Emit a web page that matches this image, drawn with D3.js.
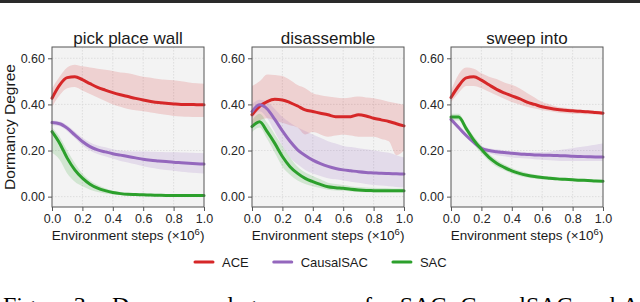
<!DOCTYPE html>
<html>
<head>
<meta charset="utf-8">
<script src="https://cdn.jsdelivr.net/npm/d3@7"></script>
<style>
  body { margin: 0; background: #fff; }
  svg { display: block; font-family: 'Liberation Sans', Arial, sans-serif; }
</style>
</head>
<body>
<div id="chart"></div>
<script>
// environment steps (x 10^6)
const steps = [0, 0.05, 0.1, 0.15, 0.2, 0.25, 0.3, 0.35, 0.4, 0.45, 0.5, 0.55, 0.6, 0.65, 0.7, 0.75, 0.8, 0.85, 0.9, 0.95, 1.0]
const tasks = ['pick place wall', 'disassemble', 'sweep into']
const methods = ['ACE', 'CausalSAC', 'SAC']
const colors = ['#d62728', '#9467bd', '#2ca02c']
const yTicks = [0, 0.2, 0.4, 0.6]
const xTicks = [0, 0.2, 0.4, 0.6, 0.8, 1.0]

// pick place wall
const pickAceMean = [0.427, 0.484, 0.516, 0.52, 0.507, 0.49, 0.474, 0.462, 0.451, 0.442, 0.434, 0.426, 0.419, 0.413, 0.408, 0.405, 0.402, 0.4, 0.4, 0.399, 0.398]
const pickAceHi = [0.47, 0.52, 0.56, 0.572, 0.565, 0.56, 0.555, 0.55, 0.545, 0.538, 0.535, 0.528, 0.52, 0.516, 0.51, 0.507, 0.505, 0.5, 0.495, 0.492, 0.49]
const pickAceLo = [0.39, 0.44, 0.47, 0.475, 0.46, 0.445, 0.43, 0.415, 0.4, 0.39, 0.38, 0.375, 0.37, 0.365, 0.36, 0.355, 0.35, 0.348, 0.346, 0.345, 0.345]
const pickCausalMean = [0.321, 0.316, 0.297, 0.268, 0.239, 0.217, 0.203, 0.194, 0.186, 0.18, 0.174, 0.168, 0.162, 0.158, 0.155, 0.152, 0.149, 0.147, 0.145, 0.143, 0.141]
const pickCausalHi = [0.33, 0.326, 0.31, 0.282, 0.255, 0.235, 0.222, 0.214, 0.206, 0.2, 0.197, 0.196, 0.196, 0.195, 0.194, 0.193, 0.192, 0.191, 0.19, 0.189, 0.188]
const pickCausalLo = [0.31, 0.305, 0.284, 0.254, 0.222, 0.2, 0.185, 0.175, 0.165, 0.155, 0.148, 0.14, 0.132, 0.125, 0.12, 0.115, 0.112, 0.108, 0.105, 0.102, 0.1]
const pickSacMean = [0.282, 0.232, 0.167, 0.116, 0.08, 0.054, 0.037, 0.026, 0.018, 0.013, 0.01, 0.009, 0.008, 0.007, 0.006, 0.005, 0.005, 0.005, 0.005, 0.005, 0.005]
const pickSacHi = [0.3, 0.26, 0.2, 0.145, 0.1, 0.07, 0.05, 0.036, 0.026, 0.02, 0.016, 0.014, 0.012, 0.011, 0.01, 0.01, 0.009, 0.009, 0.009, 0.009, 0.009]
const pickSacLo = [0.19, 0.16, 0.1, 0.065, 0.045, 0.03, 0.02, 0.014, 0.01, 0.007, 0.005, 0.004, 0.003, 0.002, 0.002, 0.002, 0.002, 0.002, 0.002, 0.002, 0.002]

// disassemble
const disAceMean = [0.355, 0.391, 0.412, 0.422, 0.419, 0.408, 0.393, 0.376, 0.369, 0.362, 0.355, 0.347, 0.347, 0.347, 0.355, 0.35, 0.34, 0.333, 0.326, 0.316, 0.307]
const disAceHi = [0.48, 0.5, 0.53, 0.528, 0.523, 0.506, 0.484, 0.47, 0.448, 0.44, 0.434, 0.43, 0.427, 0.43, 0.434, 0.43, 0.427, 0.42, 0.412, 0.405, 0.398]
const disAceLo = [0.3, 0.33, 0.34, 0.33, 0.32, 0.31, 0.3, 0.27, 0.28, 0.27, 0.26, 0.265, 0.27, 0.265, 0.26, 0.26, 0.26, 0.25, 0.24, 0.18, 0.2]
const disCausalMean = [0.369, 0.398, 0.38, 0.335, 0.285, 0.24, 0.203, 0.178, 0.158, 0.143, 0.131, 0.122, 0.116, 0.112, 0.108, 0.105, 0.103, 0.101, 0.1, 0.099, 0.098]
const disCausalHi = [0.4, 0.42, 0.41, 0.38, 0.345, 0.32, 0.3, 0.285, 0.27, 0.255, 0.24, 0.23, 0.22, 0.215, 0.21, 0.205, 0.2, 0.195, 0.19, 0.18, 0.17]
const disCausalLo = [0.34, 0.37, 0.34, 0.28, 0.22, 0.17, 0.14, 0.115, 0.1, 0.09, 0.08, 0.075, 0.07, 0.065, 0.06, 0.055, 0.05, 0.048, 0.045, 0.042, 0.04]
const disSacMean = [0.304, 0.325, 0.282, 0.231, 0.174, 0.13, 0.101, 0.079, 0.065, 0.053, 0.043, 0.039, 0.036, 0.032, 0.029, 0.027, 0.026, 0.025, 0.025, 0.025, 0.025]
const disSacHi = [0.33, 0.36, 0.32, 0.27, 0.22, 0.17, 0.13, 0.105, 0.09, 0.075, 0.06, 0.055, 0.05, 0.045, 0.042, 0.04, 0.038, 0.037, 0.036, 0.035, 0.035]
const disSacLo = [0.28, 0.3, 0.25, 0.19, 0.13, 0.095, 0.07, 0.055, 0.045, 0.037, 0.03, 0.027, 0.025, 0.022, 0.02, 0.019, 0.018, 0.018, 0.018, 0.018, 0.018]

// sweep into
const sweepAceMean = [0.43, 0.48, 0.515, 0.52, 0.505, 0.485, 0.465, 0.45, 0.437, 0.425, 0.41, 0.4, 0.39, 0.383, 0.378, 0.375, 0.372, 0.37, 0.368, 0.365, 0.362]
const sweepAceHi = [0.46, 0.53, 0.56, 0.555, 0.535, 0.52, 0.51, 0.495, 0.485, 0.47, 0.45, 0.43, 0.41, 0.4, 0.39, 0.385, 0.38, 0.377, 0.375, 0.372, 0.37]
const sweepAceLo = [0.41, 0.45, 0.48, 0.48, 0.47, 0.455, 0.44, 0.425, 0.41, 0.4, 0.39, 0.382, 0.375, 0.37, 0.365, 0.362, 0.36, 0.358, 0.357, 0.356, 0.355]
const sweepCausalMean = [0.335, 0.3, 0.265, 0.235, 0.21, 0.2, 0.195, 0.191, 0.188, 0.185, 0.183, 0.181, 0.18, 0.179, 0.178, 0.177, 0.175, 0.174, 0.173, 0.172, 0.172]
const sweepCausalHi = [0.345, 0.31, 0.275, 0.245, 0.22, 0.21, 0.205, 0.2, 0.197, 0.195, 0.193, 0.192, 0.192, 0.195, 0.2, 0.205, 0.21, 0.215, 0.22, 0.225, 0.23]
const sweepCausalLo = [0.325, 0.29, 0.255, 0.225, 0.2, 0.188, 0.18, 0.175, 0.17, 0.167, 0.165, 0.162, 0.16, 0.158, 0.156, 0.155, 0.155, 0.155, 0.155, 0.155, 0.155]
const sweepSacMean = [0.345, 0.345, 0.295, 0.245, 0.205, 0.17, 0.145, 0.127, 0.112, 0.101, 0.093, 0.087, 0.083, 0.08, 0.077, 0.075, 0.073, 0.071, 0.07, 0.068, 0.067]
const sweepSacHi = [0.36, 0.36, 0.31, 0.262, 0.222, 0.186, 0.16, 0.14, 0.124, 0.112, 0.103, 0.096, 0.091, 0.087, 0.084, 0.081, 0.079, 0.077, 0.075, 0.073, 0.072]
const sweepSacLo = [0.33, 0.33, 0.28, 0.228, 0.188, 0.155, 0.13, 0.114, 0.1, 0.09, 0.083, 0.078, 0.075, 0.073, 0.07, 0.069, 0.067, 0.065, 0.064, 0.063, 0.062]

const panelData = [
  [[pickAceMean, pickAceLo, pickAceHi], [pickCausalMean, pickCausalLo, pickCausalHi], [pickSacMean, pickSacLo, pickSacHi]],
  [[disAceMean, disAceLo, disAceHi], [disCausalMean, disCausalLo, disCausalHi], [disSacMean, disSacLo, disSacHi]],
  [[sweepAceMean, sweepAceLo, sweepAceHi], [sweepCausalMean, sweepCausalLo, sweepCausalHi], [sweepSacMean, sweepSacLo, sweepSacHi]]
]

const width = 640
const height = 302
const panelLeft = [52, 252, 451]
const plotW = 152
const plotTop = 47
const plotH = 160

const svg = d3
  .select('#chart')
  .append('svg')
  .attr('width', width)
  .attr('height', height)

// dark rule at the very top of the page
svg.append('rect').attr('x', 0).attr('y', 0).attr('width', width).attr('height', 3).attr('fill', '#2a2a2a')

const x = d3.scaleLinear().domain([0, 1]).range([0, plotW])
const y = d3.scaleLinear().domain([-0.045, 0.649]).range([plotH, 0])

const line = d3
  .line()
  .x((d, i) => x(steps[i]))
  .y(d => y(d))
  .curve(d3.curveMonotoneX)

const band = d3
  .area()
  .x(d => x(d.s))
  .y0(d => y(d.lo))
  .y1(d => y(d.hi))
  .curve(d3.curveMonotoneX)

tasks.forEach((task, p) => {
  const g = svg.append('g').attr('transform', `translate(${panelLeft[p]},${plotTop})`)

  g.append('rect').attr('width', plotW).attr('height', plotH).attr('fill', '#f3f3f3')

  // dotted grid
  g.selectAll('.vgrid')
    .data(xTicks.slice(1, -1))
    .enter()
    .append('line')
    .attr('x1', d => x(d)).attr('x2', d => x(d))
    .attr('y1', 0).attr('y2', plotH)
    .attr('stroke', '#d8d8d8').attr('stroke-dasharray', '1.5,1.5').attr('stroke-width', 0.8)
  g.selectAll('.hgrid')
    .data(yTicks)
    .enter()
    .append('line')
    .attr('y1', d => y(d)).attr('y2', d => y(d))
    .attr('x1', 0).attr('x2', plotW)
    .attr('stroke', '#d8d8d8').attr('stroke-dasharray', '1.5,1.5').attr('stroke-width', 0.8)

  const series = panelData[p]
  series.forEach((s, m) => {
    const pts = steps.map((st, i) => ({ s: st, lo: s[1][i], hi: s[2][i] }))
    g.append('path').attr('d', band(pts)).attr('fill', colors[m]).attr('fill-opacity', 0.17)
  })
  series.forEach((s, m) => {
    g.append('path')
      .attr('d', line(s[0]))
      .attr('fill', 'none')
      .attr('stroke', colors[m])
      .attr('stroke-width', 3)
      .attr('stroke-linecap', 'round')
  })

  g.append('rect').attr('width', plotW).attr('height', plotH)
    .attr('fill', 'none').attr('stroke', '#555').attr('stroke-width', 1)

  const yAxis = d3.axisLeft(y).tickValues(yTicks).tickFormat(d3.format('.2f')).tickSize(4).tickPadding(3)
  const ya = g.append('g').call(yAxis)
  const xAxis = d3.axisBottom(x).tickValues(xTicks).tickFormat(d3.format('.1f')).tickSize(4).tickPadding(3)
  const xa = g.append('g').attr('transform', `translate(0,${plotH})`).call(xAxis)
  ;[ya, xa].forEach(a => {
    a.select('.domain').remove()
    a.selectAll('.tick line').attr('stroke', '#555')
    a.selectAll('.tick text').attr('fill', '#262626').style('font-size', '12.5px')
      .style('font-family', "'Liberation Sans', Arial, sans-serif")
  })

  g.append('text')
    .attr('x', plotW / 2).attr('y', -3.5)
    .attr('text-anchor', 'middle')
    .attr('fill', '#1a1a1a')
    .style('font-size', '17px')
    .text(task)

  const xl = g.append('text')
    .attr('x', plotW / 2).attr('y', 193)
    .attr('text-anchor', 'middle')
    .attr('fill', '#1a1a1a')
    .style('font-size', '13.5px')
  xl.append('tspan').text('Environment steps (\u00d710')
  xl.append('tspan').attr('dy', -5).style('font-size', '9.5px').text('6')
  xl.append('tspan').attr('dy', 5).text(')')
})

svg.append('text')
  .attr('transform', `translate(15,${plotTop + plotH / 2}) rotate(-90)`)
  .attr('text-anchor', 'middle')
  .attr('fill', '#1a1a1a')
  .style('font-size', '15.5px')
  .text('Dormancy Degree')

// legend
const legend = svg.append('g').attr('transform', 'translate(195,262)')
let lx = 0
methods.forEach((name, m) => {
  legend.append('line')
    .attr('x1', lx).attr('x2', lx + 18)
    .attr('stroke', colors[m]).attr('stroke-width', 3).attr('stroke-linecap', 'round')
  const t = legend.append('text')
    .attr('x', lx + 27).attr('y', 4.5)
    .attr('fill', '#1a1a1a')
    .style('font-size', '13px')
    .text(name)
  lx += 27 + t.node().getComputedTextLength() + 25
})

// figure caption, cut by the bottom edge
const cap = svg.append('text')
  .attr('y', 313)
  .attr('fill', '#000')
  .style('font-family', "'Liberation Serif', 'Times New Roman', serif")
  .style('font-size', '24px')
  .style('word-spacing', '2px')
cap.append('tspan').attr('x', 3).text('Figure 3:')
cap.append('tspan').attr('x', 112).text('Dormancy degree curves for SAC, CausalSAC and ACE')
</script>
</body>
</html>
